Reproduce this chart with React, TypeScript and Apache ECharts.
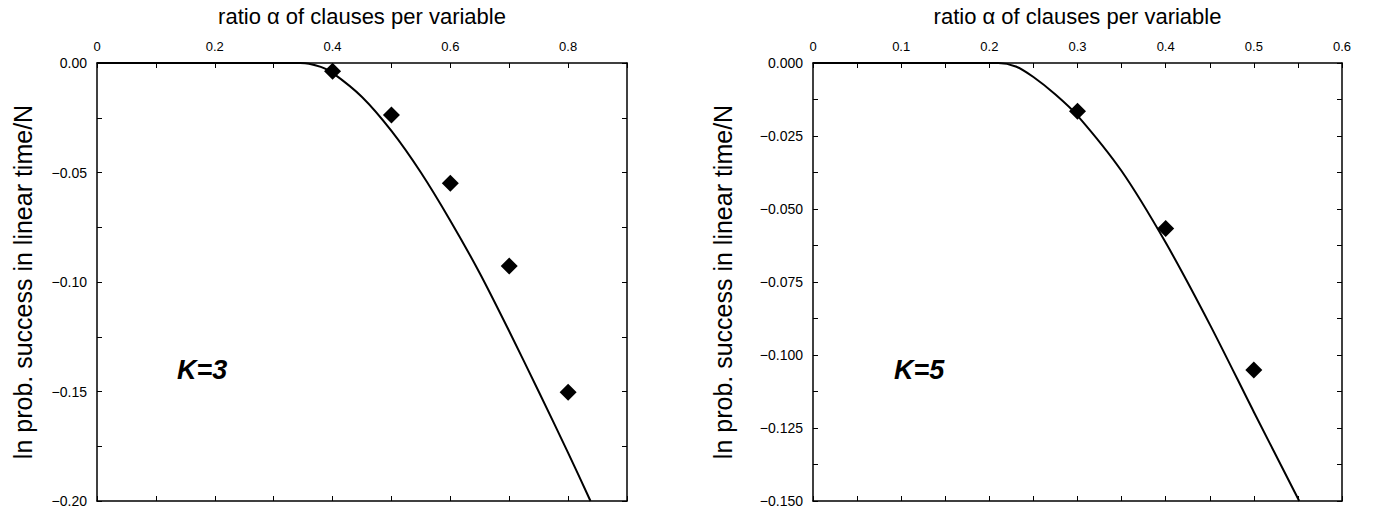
import React, { useEffect, useRef } from "react";
import * as echarts from "echarts";

// Left panel (K=3)
const k3CurveX = [0, 0.345, 0.36, 0.38, 0.40, 0.45, 0.50, 0.55, 0.60, 0.65, 0.70, 0.75, 0.80, 0.838];
const k3CurveY = [0, 0, -0.0003, -0.0018, -0.0045, -0.0155, -0.031, -0.050, -0.072, -0.096, -0.1225, -0.150, -0.178, -0.2];
const k3PointX = [0.4, 0.5, 0.6, 0.7, 0.8];
const k3PointY = [-0.0038, -0.0238, -0.0549, -0.0927, -0.1503];

// Right panel (K=5)
const k5CurveX = [0, 0.21, 0.23, 0.25, 0.275, 0.30, 0.35, 0.40, 0.45, 0.50, 0.5515];
const k5CurveY = [0, 0, -0.0012, -0.0048, -0.0108, -0.018, -0.037, -0.0615, -0.0895, -0.1195, -0.15];
const k5PointX = [0.3, 0.4, 0.5];
const k5PointY = [-0.0165, -0.0567, -0.1051];

const xTitle = "ratio \u03b1 of clauses per variable";
const yTitle = "ln prob. success in linear time/N";
const panelLabels = ["K=3", "K=5"];

const FONT = "Liberation Sans, Arial, Helvetica, sans-serif";
const INK = "#000";

const isMult = (v: number, step: number) => Math.abs(v / step - Math.round(v / step)) < 1e-6;

function zip(xs: number[], ys: number[]) {
  return xs.map((x, i) => [x, ys[i]]);
}

export default function App() {
  const ref = useRef<HTMLDivElement>(null);
  useEffect(() => {
    if (!ref.current) return;
    const chart = echarts.init(ref.current, undefined, { renderer: "svg" });

    const axisLine = { show: true, onZero: false, lineStyle: { color: INK, width: 1.5 } };
    const tick = { show: true, inside: true, length: 5, lineStyle: { color: INK, width: 1 } };

    const xFmt = (labStep: number, labMax: number) => (v: number) => {
      if (!isMult(v, labStep) || v > labMax + 1e-9) return "";
      return v === 0 ? "0" : v.toFixed(1);
    };
    const yFmt = (labStep: number, dec: number) => (v: number) => {
      if (!isMult(v, labStep)) return "";
      if (Math.abs(v) < 1e-12) return (0).toFixed(dec);
      return "\u2212" + Math.abs(v).toFixed(dec);
    };

    const xAxes: any[] = [];
    const yAxes: any[] = [];
    const panels = [
      { max: 0.9, step: 0.1, lab: 0.2, labMax: 0.8, ymin: -0.2, ystep: 0.025, ylab: 0.05, dec: 2, yGap: 62 },
      { max: 0.6, step: 0.05, lab: 0.1, labMax: 0.6, ymin: -0.15, ystep: 0.0125, ylab: 0.025, dec: 3, yGap: 78 },
    ];
    panels.forEach((p, g) => {
      xAxes.push({
        type: "value", gridIndex: g, position: "top", min: 0, max: p.max, interval: p.step,
        axisLine, axisTick: tick, splitLine: { show: false },
        axisLabel: { show: true, formatter: xFmt(p.lab, p.labMax), color: INK, fontSize: 13, fontFamily: FONT, margin: 10, showMaxLabel: true },
        name: xTitle, nameLocation: "middle", nameGap: 36,
        nameTextStyle: { color: INK, fontSize: 22, fontFamily: FONT },
      });
      xAxes.push({
        type: "value", gridIndex: g, position: "bottom", min: 0, max: p.max, interval: p.step,
        axisLine, axisTick: tick, splitLine: { show: false }, axisLabel: { show: false },
      });
      yAxes.push({
        type: "value", gridIndex: g, position: "left", min: p.ymin, max: 0, interval: p.ystep,
        axisLine, axisTick: tick, splitLine: { show: false },
        axisLabel: { show: true, formatter: yFmt(p.ylab, p.dec), color: INK, fontSize: 14, fontFamily: FONT, margin: 10, showMinLabel: true, showMaxLabel: true },
        name: yTitle, nameLocation: "middle", nameGap: p.yGap,
        nameTextStyle: { color: INK, fontSize: 25, fontFamily: FONT },
      });
      yAxes.push({
        type: "value", gridIndex: g, position: "right", min: p.ymin, max: 0, interval: p.ystep,
        axisLine, axisTick: tick, splitLine: { show: false }, axisLabel: { show: false },
      });
    });

    const curve = (xs: number[], ys: number[], g: number) => ({
      type: "line", xAxisIndex: g * 2, yAxisIndex: g * 2, data: zip(xs, ys),
      showSymbol: false, smooth: 0.3,
      lineStyle: { color: INK, width: 2 }, z: 3,
    });
    const pts = (xs: number[], ys: number[], g: number) => ({
      type: "scatter", xAxisIndex: g * 2, yAxisIndex: g * 2, data: zip(xs, ys),
      symbol: "diamond", symbolSize: 17, itemStyle: { color: INK, opacity: 1 }, z: 4,
    });

    chart.setOption({
      animation: false,
      backgroundColor: "#fff",
      grid: [
        { left: 97, top: 61, width: 530, height: 440 },
        { left: 813, top: 61, width: 529, height: 440 },
      ],
      xAxis: xAxes,
      yAxis: yAxes,
      series: [
        curve(k3CurveX, k3CurveY, 0),
        pts(k3PointX, k3PointY, 0),
        curve(k5CurveX, k5CurveY, 1),
        pts(k5PointX, k5PointY, 1),
      ],
      graphic: [
        { type: "text", left: 177, top: 356, style: { text: panelLabels[0], fontSize: 27, fontWeight: "bold", fontStyle: "italic", fontFamily: FONT, fill: INK } },
        { type: "text", left: 894, top: 356, style: { text: panelLabels[1], fontSize: 27, fontWeight: "bold", fontStyle: "italic", fontFamily: FONT, fill: INK } },
      ],
    });
    return () => chart.dispose();
  }, []);
  return (
    <div
      ref={ref}
      style={{ position: "fixed", left: 0, top: 0, width: 1377, height: 512, background: "#fff" }}
    />
  );
}
